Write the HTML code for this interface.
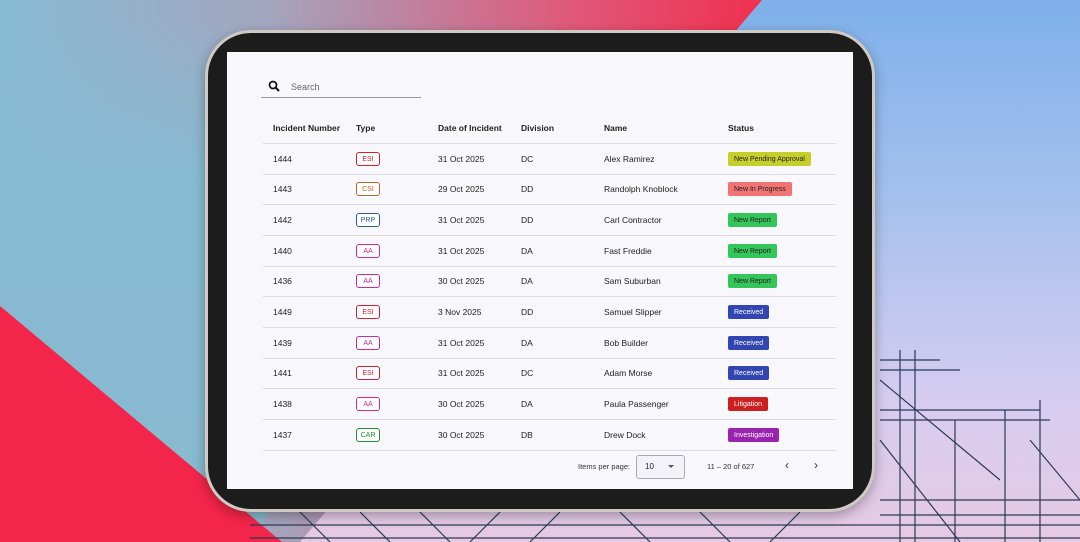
<!DOCTYPE html>
<html><head><meta charset="utf-8"><style>
*{margin:0;padding:0;box-sizing:border-box}
body{width:1080px;height:542px;overflow:hidden;position:relative;font-family:"Liberation Sans",sans-serif;background:linear-gradient(180deg,#7eb0ea 0%,#a9c2ee 40%,#d8cdf0 75%,#e6c9e4 100%)}
.abs{position:absolute}
.frame{left:205px;top:30px;width:670px;height:482px;border-radius:46px;background:#1c1c1c;border:3px solid #cfcac4;box-shadow:0 4px 12px rgba(0,0,0,.3)}
.screen{left:227px;top:52px;width:626px;height:437px;background:#f8f8fc}
.t{position:absolute;font-size:8.5px;color:#222;line-height:10px}
.h{font-weight:bold;font-size:8.5px}
.line{position:absolute;left:263px;width:573px;height:1px;background:#dcdce2}
.b{position:absolute;left:356px;width:24px;height:14px;border:1.5px solid;border-radius:3px;font-size:7px;display:flex;align-items:center;justify-content:center;background:#fff}
.s{position:absolute;left:728px;height:14px;border-radius:2px;font-size:7px;display:flex;align-items:center;padding:0 6px;color:#fff}
</style></head><body>
<svg class="abs" style="left:0;top:0" width="1080" height="542">
<defs><linearGradient id="g" x1="0" x2="1" y1="0" y2="0"><stop offset="0" stop-color="#86bbd3"/><stop offset="0.35" stop-color="#a3a6bf"/><stop offset="0.75" stop-color="#e0587a"/><stop offset="1" stop-color="#f0304f"/></linearGradient>
<linearGradient id="g2" x1="0" x2="0" y1="0" y2="1"><stop offset="0" stop-color="#86bbd3" stop-opacity="0"/><stop offset="0.3" stop-color="#86bbd3"/><stop offset="1" stop-color="#88b9cf"/></linearGradient></defs>
<polygon points="0,0 762,0 300,542 0,542" fill="url(#g)"/>
<polygon points="0,20 560,20 250,542 0,542" fill="url(#g2)"/>
<polygon points="0,306 0,542 282,542" fill="#f4254a"/>
<g stroke="#2c3a55" stroke-width="1.2" fill="none">
<line x1="880" y1="360" x2="940" y2="360"/><line x1="880" y1="370" x2="960" y2="370"/><line x1="880" y1="410" x2="1040" y2="410"/><line x1="880" y1="420" x2="1050" y2="420"/>
<line x1="880" y1="500" x2="1080" y2="500"/><line x1="880" y1="515" x2="1080" y2="515"/><line x1="250" y1="525" x2="1080" y2="525"/><line x1="250" y1="538" x2="1080" y2="538"/>
<line x1="900" y1="350" x2="900" y2="542"/><line x1="915" y1="350" x2="915" y2="542"/><line x1="955" y1="420" x2="955" y2="542"/><line x1="1005" y1="410" x2="1005" y2="542"/><line x1="1040" y1="400" x2="1040" y2="542"/>
<line x1="880" y1="380" x2="1000" y2="480"/><line x1="880" y1="440" x2="960" y2="542"/><line x1="1030" y1="440" x2="1080" y2="500"/>
<line x1="300" y1="512" x2="330" y2="542"/><line x1="360" y1="512" x2="390" y2="542"/><line x1="420" y1="512" x2="450" y2="542"/><line x1="500" y1="512" x2="470" y2="542"/><line x1="560" y1="512" x2="530" y2="542"/><line x1="620" y1="512" x2="650" y2="542"/><line x1="700" y1="512" x2="730" y2="542"/><line x1="800" y1="512" x2="770" y2="542"/>
</g></svg>
<div class="abs frame"></div>
<div class="abs screen"></div>
<svg class="abs" style="left:268px;top:80px" width="14" height="14"><circle cx="5" cy="5" r="3.5" stroke="#111" stroke-width="1.7" fill="none"/><line x1="7.5" y1="7.5" x2="11" y2="11" stroke="#111" stroke-width="2"/></svg>
<div class="t" style="left:291px;top:82px;color:#666;font-size:9px">Search</div>
<div class="abs" style="left:261px;top:97px;width:160px;height:1px;background:#999"></div>
<div class="t h" style="left:273px;top:123px">Incident Number</div>
<div class="t h" style="left:356px;top:123px">Type</div>
<div class="t h" style="left:438px;top:123px">Date of Incident</div>
<div class="t h" style="left:521px;top:123px">Division</div>
<div class="t h" style="left:604px;top:123px">Name</div>
<div class="t h" style="left:728px;top:123px">Status</div>
<div class="line" style="top:143px"></div><div class="line" style="top:174px"></div><div class="line" style="top:204px"></div><div class="line" style="top:235px"></div><div class="line" style="top:266px"></div><div class="line" style="top:296px"></div><div class="line" style="top:327px"></div><div class="line" style="top:358px"></div><div class="line" style="top:388px"></div><div class="line" style="top:419px"></div><div class="line" style="top:450px"></div>

<div class="t" style="left:273px;top:154px">1444</div><div class="b" style="top:152px;border-color:#d3202f;color:#d3202f">ESI</div><div class="t" style="left:438px;top:154px">31 Oct 2025</div><div class="t" style="left:521px;top:154px">DC</div><div class="t" style="left:604px;top:154px">Alex Ramirez</div><div class="s" style="top:152px;background:#c6cf2a;color:#222">New Pending Approval</div>
<div class="t" style="left:273px;top:184px">1443</div><div class="b" style="top:182px;border-color:#c0652c;color:#c0652c">CSI</div><div class="t" style="left:438px;top:184px">29 Oct 2025</div><div class="t" style="left:521px;top:184px">DD</div><div class="t" style="left:604px;top:184px">Randolph Knoblock</div><div class="s" style="top:182px;background:#f27373;color:#222">New In Progress</div>
<div class="t" style="left:273px;top:215px">1442</div><div class="b" style="top:213px;border-color:#2c5a9a;color:#2c5a9a">PRP</div><div class="t" style="left:438px;top:215px">31 Oct 2025</div><div class="t" style="left:521px;top:215px">DD</div><div class="t" style="left:604px;top:215px">Carl Contractor</div><div class="s" style="top:213px;background:#34c65a;color:#222">New Report</div>
<div class="t" style="left:273px;top:246px">1440</div><div class="b" style="top:244px;border-color:#d02a96;color:#d02a96">AA</div><div class="t" style="left:438px;top:246px">31 Oct 2025</div><div class="t" style="left:521px;top:246px">DA</div><div class="t" style="left:604px;top:246px">Fast Freddie</div><div class="s" style="top:244px;background:#34c65a;color:#222">New Report</div>
<div class="t" style="left:273px;top:276px">1436</div><div class="b" style="top:274px;border-color:#d02a96;color:#d02a96">AA</div><div class="t" style="left:438px;top:276px">30 Oct 2025</div><div class="t" style="left:521px;top:276px">DA</div><div class="t" style="left:604px;top:276px">Sam Suburban</div><div class="s" style="top:274px;background:#34c65a;color:#222">New Report</div>
<div class="t" style="left:273px;top:307px">1449</div><div class="b" style="top:305px;border-color:#d3202f;color:#d3202f">ESI</div><div class="t" style="left:438px;top:307px">3 Nov 2025</div><div class="t" style="left:521px;top:307px">DD</div><div class="t" style="left:604px;top:307px">Samuel Slipper</div><div class="s" style="top:305px;background:#3345b0">Received</div>
<div class="t" style="left:273px;top:338px">1439</div><div class="b" style="top:336px;border-color:#d02a96;color:#d02a96">AA</div><div class="t" style="left:438px;top:338px">31 Oct 2025</div><div class="t" style="left:521px;top:338px">DA</div><div class="t" style="left:604px;top:338px">Bob Builder</div><div class="s" style="top:336px;background:#3345b0">Received</div>
<div class="t" style="left:273px;top:368px">1441</div><div class="b" style="top:366px;border-color:#d3202f;color:#d3202f">ESI</div><div class="t" style="left:438px;top:368px">31 Oct 2025</div><div class="t" style="left:521px;top:368px">DC</div><div class="t" style="left:604px;top:368px">Adam Morse</div><div class="s" style="top:366px;background:#3345b0">Received</div>
<div class="t" style="left:273px;top:399px">1438</div><div class="b" style="top:397px;border-color:#d02a96;color:#d02a96">AA</div><div class="t" style="left:438px;top:399px">30 Oct 2025</div><div class="t" style="left:521px;top:399px">DA</div><div class="t" style="left:604px;top:399px">Paula Passenger</div><div class="s" style="top:397px;background:#cc2020">Litigation</div>
<div class="t" style="left:273px;top:430px">1437</div><div class="b" style="top:428px;border-color:#1f8f2f;color:#1f8f2f">CAR</div><div class="t" style="left:438px;top:430px">30 Oct 2025</div><div class="t" style="left:521px;top:430px">DB</div><div class="t" style="left:604px;top:430px">Drew Dock</div><div class="s" style="top:428px;background:#9a22b0">Investigation</div>

<div class="t" style="left:578px;top:462px;font-size:7.5px;color:#333">Items per page:</div>
<div class="abs" style="left:636px;top:455px;width:49px;height:24px;border:1px solid #aaa;border-radius:3px;background:#f2f2f8"></div>
<div class="t" style="left:645px;top:462px;font-size:8px">10</div>
<div class="abs" style="left:668px;top:465px;width:0;height:0;border-left:3.5px solid transparent;border-right:3.5px solid transparent;border-top:3.5px solid #555"></div>
<div class="t" style="left:707px;top:462px;font-size:7.5px;color:#333">11 – 20 of 627</div>
<div class="t" style="left:785px;top:460px;font-size:12px;color:#333">‹</div>
<div class="t" style="left:814px;top:460px;font-size:12px;color:#333">›</div>
</body></html>
